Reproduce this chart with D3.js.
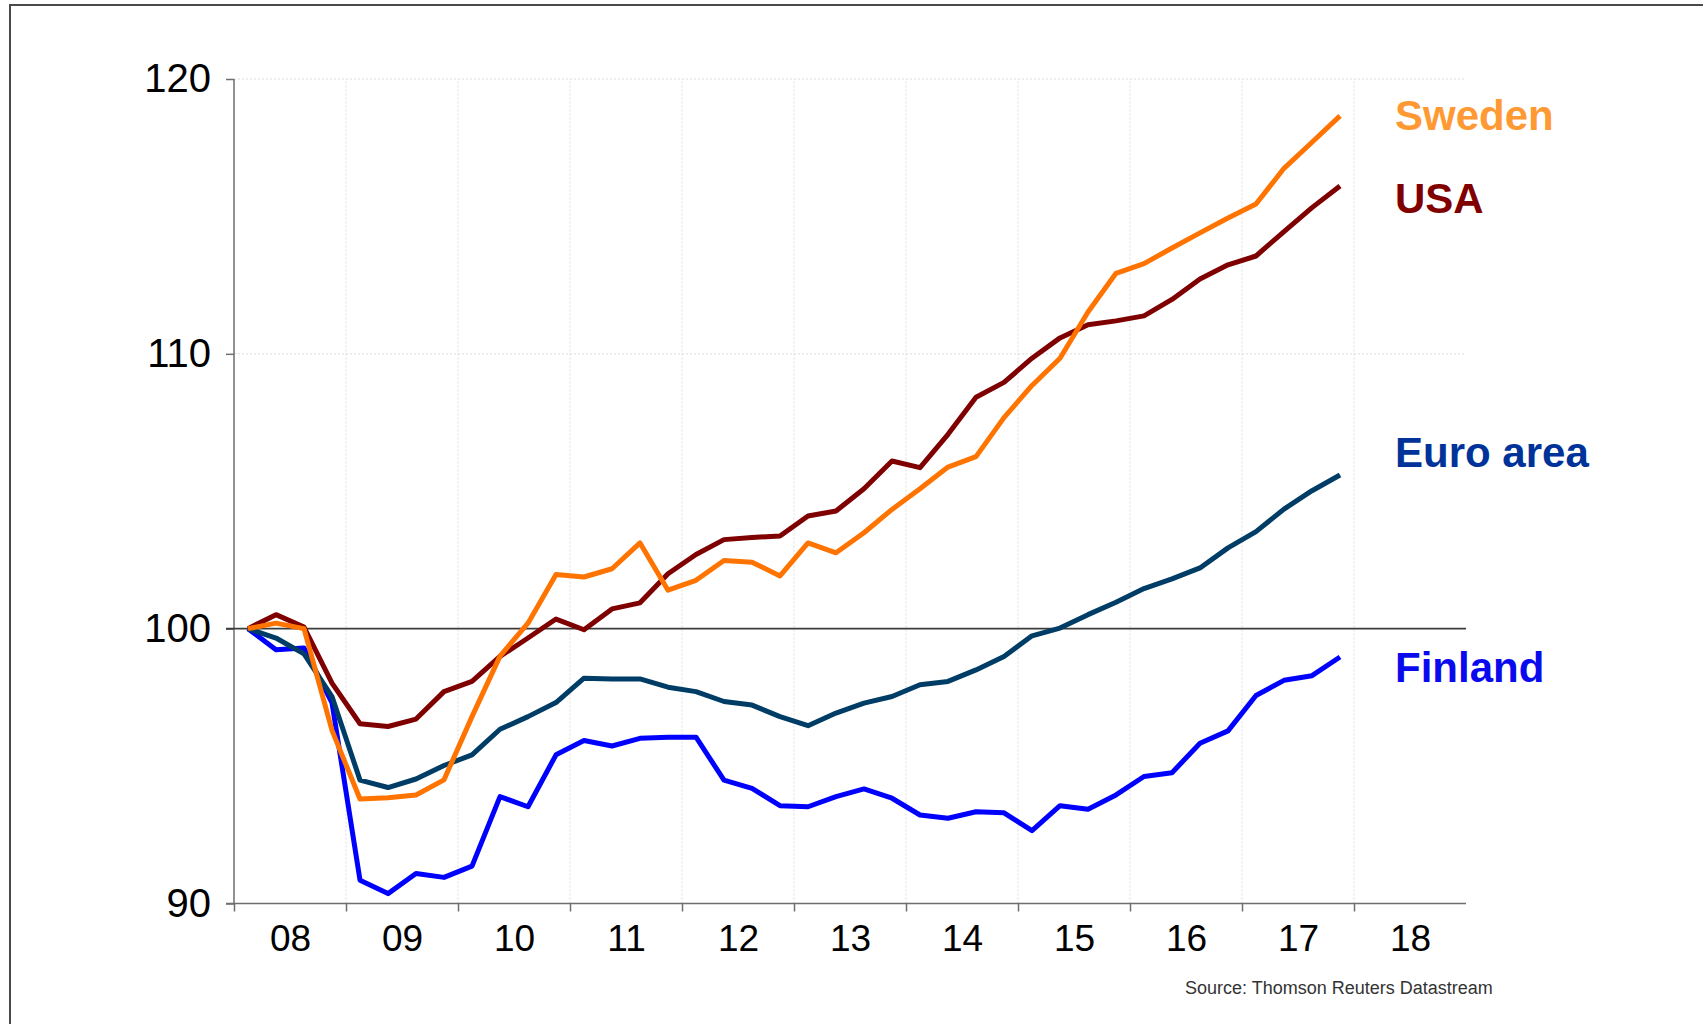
<!DOCTYPE html>
<html>
<head>
<meta charset="utf-8">
<script src="https://cdn.jsdelivr.net/npm/d3@7"></script>
<style>
  body { margin: 0; background: #fff; }
  svg { display: block; font-family: "Liberation Sans", Arial, sans-serif; }
  .axis path, .axis line { stroke: #6e6e6e; stroke-width: 1.5; }
  .axis text { fill: #000; font-size: 37px; }
  .yaxis text { font-size: 40px; }
  .grid line { stroke: #dcdcdc; stroke-width: 1; stroke-dasharray: 2,2; }
</style>
</head>
<body>
<div id="chart"></div>
<script>
// Quarterly index, 2008 Q1 = 100
var startYear = 2008;
var yearLabels = ["08", "09", "10", "11", "12", "13", "14", "15", "16", "17", "18"];
var yTicks = [90, 100, 110, 120];

var sweden = [100, 100.2, 100.0, 96.3, 93.8, 93.85, 93.95, 94.5, 96.8, 99.0,
  100.2, 101.97, 101.88, 102.18, 103.12, 101.4, 101.76, 102.48, 102.42, 101.92,
  103.12, 102.76, 103.49, 104.34, 105.09, 105.88, 106.26, 107.68, 108.85, 109.84,
  111.52, 112.93, 113.28, 113.85, 114.4, 114.94, 115.45, 116.75, 117.7, 118.66];

var usa = [100, 100.51, 100.06, 98.02, 96.54, 96.44, 96.71, 97.71, 98.08, 98.99,
  99.66, 100.35, 99.96, 100.72, 100.94, 102.0, 102.7, 103.24, 103.32, 103.37,
  104.1, 104.28, 105.09, 106.1, 105.86, 107.07, 108.42, 108.96, 109.84, 110.58,
  111.06, 111.2, 111.38, 111.98, 112.72, 113.24, 113.56, 114.45, 115.32, 116.11];

var euroArea = [100, 99.66, 99.08, 97.53, 94.49, 94.22, 94.53, 95.02, 95.41, 96.34,
  96.8, 97.31, 98.2, 98.17, 98.17, 97.87, 97.71, 97.35, 97.22, 96.8,
  96.47, 96.93, 97.29, 97.53, 97.96, 98.08, 98.5, 98.99, 99.74, 100.02,
  100.51, 100.96, 101.46, 101.81, 102.21, 102.94, 103.53, 104.35, 105.02, 105.59];

var finland = [100, 99.23, 99.3, 97.3, 90.85, 90.36, 91.09, 90.95, 91.36, 93.89,
  93.52, 95.41, 95.93, 95.73, 96.01, 96.05, 96.05, 94.49, 94.19, 93.56,
  93.52, 93.89, 94.17, 93.83, 93.22, 93.1, 93.34, 93.3, 92.65, 93.56,
  93.43, 93.95, 94.62, 94.76, 95.83, 96.28, 97.57, 98.12, 98.29, 98.97];

var series = [
  {name: "Finland",   values: finland,  line: "#0000ff", label: "#0a0aee", labelY: 682},
  {name: "Euro area", values: euroArea, line: "#003d66", label: "#003399", labelY: 467},
  {name: "USA",       values: usa,      line: "#7f0000", label: "#800000", labelY: 213},
  {name: "Sweden",    values: sweden,   line: "#ff7300", label: "#ff9933", labelY: 130}
];

var W = 1703, H = 1024;
var x = d3.scaleLinear().domain([startYear, startYear + yearLabels.length]).range([234, 1466]);
var y = d3.scaleLinear().domain([90, 120]).range([903.5, 79]);

// quarter midpoints as fractional years
function qx(i) { return x(startYear + i * 0.25 + 0.125); }

var svg = d3.select("#chart").append("svg")
    .attr("width", W)
    .attr("height", H);

// frame (only top and left edges are inside the picture)
svg.append("rect")
    .attr("x", 10).attr("y", 5)
    .attr("width", W + 20).attr("height", H + 20)
    .attr("fill", "none")
    .attr("stroke", "#4a4a4a")
    .attr("stroke-width", 2);

var yearTicks = d3.range(startYear, startYear + yearLabels.length + 1);

// grid
svg.append("g").attr("class", "grid")
  .selectAll("line.v")
  .data(yearTicks.slice(1, -1))
  .enter().append("line")
    .attr("x1", d => x(d)).attr("x2", d => x(d))
    .attr("y1", y(90)).attr("y2", y(120));

svg.append("g").attr("class", "grid")
  .selectAll("line.h")
  .data([110, 120])
  .enter().append("line")
    .attr("x1", x.range()[0]).attr("x2", x.range()[1])
    .attr("y1", d => y(d)).attr("y2", d => y(d));

// axes
svg.append("g")
    .attr("class", "axis yaxis")
    .attr("transform", "translate(" + x.range()[0] + ",0)")
    .call(d3.axisLeft(y).tickValues(yTicks).tickSize(8).tickSizeOuter(0).tickPadding(15))
    .call(g => g.select(".domain").attr("d", "M0," + y(120) + "V" + y(90)));

svg.append("g")
    .attr("class", "axis")
    .attr("transform", "translate(0," + y(90) + ")")
    .call(d3.axisBottom(x).tickValues(yearTicks.slice(0, -1)).tickSize(8).tickSizeOuter(0).tickFormat(""))
    .call(g => g.select(".domain").attr("d", "M" + (x.range()[0] - 8) + ",0H" + x.range()[1]));

svg.append("g")
    .attr("class", "axis")
    .attr("transform", "translate(0," + y(90) + ")")
    .call(d3.axisBottom(x)
      .tickValues(yearLabels.map((d, i) => startYear + i + 0.5))
      .tickSize(0).tickPadding(21)
      .tickFormat((d, i) => yearLabels[i]))
    .call(g => g.select(".domain").remove());

// base line at 100
svg.append("line")
    .attr("x1", x.range()[0] - 8).attr("x2", x.range()[1])
    .attr("y1", y(100)).attr("y2", y(100))
    .attr("stroke", "#3c3c3c")
    .attr("stroke-width", 1.6);

var line = d3.line()
    .x((d, i) => qx(i))
    .y(d => y(d));

series.forEach(function(s) {
  svg.append("path")
      .datum(s.values)
      .attr("d", line)
      .attr("fill", "none")
      .attr("stroke", s.line)
      .attr("stroke-width", 5)
      .attr("stroke-linejoin", "round");

  svg.append("text")
      .attr("x", 1395)
      .attr("y", s.labelY)
      .attr("fill", s.label)
      .style("font-size", "42px")
      .style("font-weight", "bold")
      .text(s.name);
});

svg.append("text")
    .attr("x", 1185)
    .attr("y", 994)
    .attr("fill", "#333")
    .style("font-size", "18px")
    .text("Source: Thomson Reuters Datastream");
</script>
</body>
</html>
